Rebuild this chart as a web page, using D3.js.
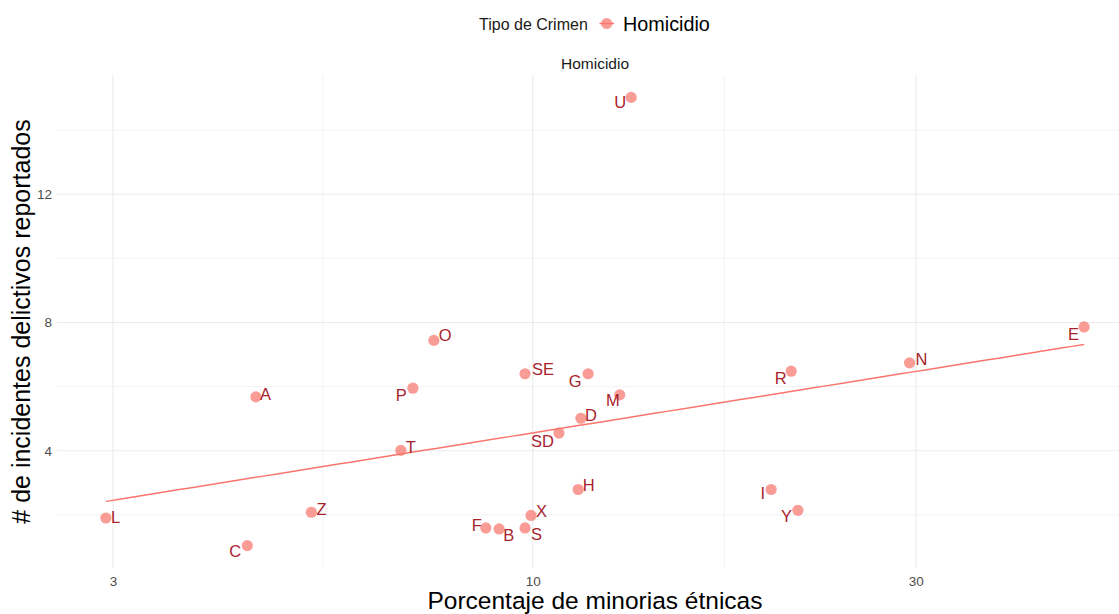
<!DOCTYPE html>
<html>
<head>
<meta charset="utf-8">
<script src="https://cdn.jsdelivr.net/npm/d3@7"></script>
<style>
  html, body { margin: 0; padding: 0; background: #fff; }
  svg { display: block; font-family: "Liberation Sans", Arial, sans-serif; }
</style>
</head>
<body>
<svg id="chart" width="1119" height="614"></svg>
<script>
// State codes, % ethnic minorities, and reported homicide incidents
const codes = ["L","C","A","Z","T","P","O","F","B","S","X","SE","SD","D","H","G","M","I","R","Y","N","E","U"];
const minorityPct = [2.94,4.41,4.52,5.30,6.85,7.09,7.53,8.74,9.08,9.78,9.95,9.78,10.78,11.48,11.39,11.72,12.83,19.81,20.98,21.39,29.46,48.6,13.26];
const homicides  = [1.90,1.04,5.68,2.08,4.01,5.95,7.44,1.59,1.56,1.59,1.98,6.40,4.55,5.01,2.79,6.40,5.74,2.79,6.48,2.14,6.74,7.86,15.02];
const xTicks = [3, 10, 30];
const yTicks = [4, 8, 12];
const crimeType = "Homicidio";

const data = codes.map((c, i) => ({ code: c, x: minorityPct[i], y: homicides[i] }));

const svg = d3.select("#chart");
const panel = { left: 57, right: 1133, top: 75, bottom: 568 };

// ggplot-style 5% expansion, x on log10
const lx = data.map(d => Math.log10(d.x));
const lxMin = d3.min(lx), lxMax = d3.max(lx), lxPad = 0.05 * (lxMax - lxMin);
const x = d3.scaleLog()
  .domain([Math.pow(10, lxMin - lxPad), Math.pow(10, lxMax + lxPad)])
  .range([panel.left, panel.right]);
const yMin = d3.min(data, d => d.y), yMax = d3.max(data, d => d.y), yPad = 0.05 * (yMax - yMin);
const y = d3.scaleLinear()
  .domain([yMin - yPad, yMax + yPad])
  .range([panel.bottom, panel.top]);

// grid
const grid = svg.append("g");
const xMinor = d3.pairs([1, ...xTicks, 100]).map(([a, b]) => Math.sqrt(a * b))
  .filter(v => v >= x.domain()[0] && v <= x.domain()[1]);
const yMinor = [2, 6, 10, 14];
grid.selectAll(".xminor").data(xMinor).join("line")
  .attr("x1", d => x(d)).attr("x2", d => x(d)).attr("y1", panel.top).attr("y2", panel.bottom)
  .attr("stroke", "#ebebeb").attr("stroke-width", 0.6);
grid.selectAll(".yminor").data(yMinor).join("line")
  .attr("x1", panel.left).attr("x2", panel.right).attr("y1", d => y(d)).attr("y2", d => y(d))
  .attr("stroke", "#ebebeb").attr("stroke-width", 0.6);
grid.selectAll(".xmajor").data(xTicks).join("line")
  .attr("x1", d => x(d)).attr("x2", d => x(d)).attr("y1", panel.top).attr("y2", panel.bottom)
  .attr("stroke", "#ebebeb").attr("stroke-width", 1.1);
grid.selectAll(".ymajor").data(yTicks).join("line")
  .attr("x1", panel.left).attr("x2", panel.right).attr("y1", d => y(d)).attr("y2", d => y(d))
  .attr("stroke", "#ebebeb").attr("stroke-width", 1.1);

// axes (tick labels only, theme_minimal style)
const xAxis = svg.append("g").attr("transform", `translate(0,${panel.bottom})`)
  .call(d3.axisBottom(x).tickValues(xTicks).tickFormat(d3.format("d")).tickSize(0).tickPadding(8));
const yAxis = svg.append("g").attr("transform", `translate(${panel.left},0)`)
  .call(d3.axisLeft(y).tickValues(yTicks).tickSize(0).tickPadding(5));
[xAxis, yAxis].forEach(a => {
  a.select(".domain").remove();
  a.selectAll("text").attr("fill", "#4d4d4d").attr("font-size", 13.5)
    .attr("font-family", "Liberation Sans, Arial, sans-serif");
});

// linear fit of y on log10(x)
const mx = d3.mean(lx), my = d3.mean(data, d => d.y);
const slope = d3.sum(data, (d, i) => (lx[i] - mx) * (d.y - my)) / d3.sum(lx, v => (v - mx) ** 2);
const intercept = my - slope * mx;
const fitX = d3.range(0, 81).map(k => Math.pow(10, lxMin + (lxMax - lxMin) * k / 80));
svg.append("path")
  .datum(fitX)
  .attr("fill", "none").attr("stroke", "#F8766D").attr("stroke-width", 1.5)
  .attr("d", d3.line().x(d => x(d)).y(d => y(intercept + slope * Math.log10(d))));

// points
svg.append("g").selectAll("circle").data(data).join("circle")
  .attr("cx", d => x(d.x)).attr("cy", d => y(d.y)).attr("r", 5.6)
  .attr("fill", "#F8766D").attr("fill-opacity", 0.72);

// repelled label placement: [anchor side, dx, dy]
const labelPlace = {
  L: ["start", 5, -1], C: ["end", -6, 6], A: ["start", 4, -3], Z: ["start", 5, -3],
  T: ["start", 5, -3], P: ["end", -6, 7], O: ["start", 5, -5], F: ["end", -4, -3],
  B: ["start", 4, 6], S: ["start", 6, 6], X: ["start", 5, -4], SE: ["start", 7, -5],
  SD: ["end", -5, 8], D: ["start", 4, -3], H: ["start", 4.5, -4], G: ["end", -6.5, 7],
  M: ["end", 0, 5], I: ["end", -6, 4], R: ["end", -4.5, 7.5], Y: ["end", -6, 6],
  N: ["start", 6, -4], E: ["end", -5, 7], U: ["end", -5, 5]
};
svg.append("g").selectAll("text").data(data).join("text")
  .attr("x", d => x(d.x) + labelPlace[d.code][1])
  .attr("y", d => y(d.y) + labelPlace[d.code][2])
  .attr("dy", "0.35em")
  .attr("text-anchor", d => labelPlace[d.code][0])
  .attr("font-size", 16.5).attr("fill", "#A8232D")
  .text(d => d.code);

// facet strip
svg.append("text").attr("x", (panel.left + panel.right) / 2).attr("y", 63.5).attr("dy", "0.35em")
  .attr("text-anchor", "middle").attr("font-size", 15.5).attr("fill", "#1a1a1a").text(crimeType);

// legend
const lg = svg.append("g");
lg.append("text").attr("x", 479).attr("y", 24).attr("dy", "0.35em")
  .attr("font-size", 16).attr("fill", "#1a1a1a").text("Tipo de Crimen");
lg.append("line").attr("x1", 599.5).attr("x2", 614).attr("y1", 23.5).attr("y2", 23.5)
  .attr("stroke", "#F8766D").attr("stroke-width", 1.5);
lg.append("circle").attr("cx", 606.7).attr("cy", 23.5).attr("r", 5.6)
  .attr("fill", "#F8766D").attr("fill-opacity", 0.72);
lg.append("text").attr("x", 623).attr("y", 24).attr("dy", "0.35em")
  .attr("font-size", 19.8).attr("fill", "#000").text(crimeType);

// axis titles
svg.append("text").attr("x", (panel.left + panel.right) / 2).attr("y", 608.5)
  .attr("text-anchor", "middle").attr("font-size", 24.5).attr("fill", "#000")
  .text("Porcentaje de minorias étnicas");
svg.append("text")
  .attr("transform", `translate(30,${(panel.top + panel.bottom) / 2}) rotate(-90)`)
  .attr("text-anchor", "middle").attr("font-size", 25).attr("fill", "#000")
  .text("# de incidentes delictivos reportados");
</script>
</body>
</html>
